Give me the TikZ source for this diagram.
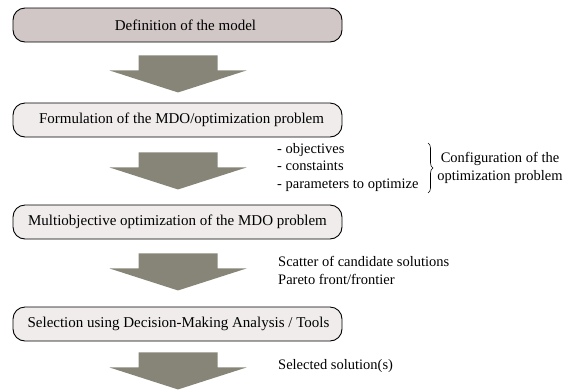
\documentclass[tikz,border=0pt]{standalone}
\usepackage{fontspec}
\setmainfont{Liberation Serif}
\usetikzlibrary{calc,decorations.pathreplacing}
\definecolor{boxA}{RGB}{208,199,198}
\definecolor{boxB}{RGB}{240,236,236}
\definecolor{arrowC}{RGB}{135,133,120}
\tikzset{
  stepbox/.style={draw=black, line width=0.9pt, rounded corners=12pt, minimum width=329pt, minimum height=34pt, inner sep=0pt, font=\fontsize{15}{18}\selectfont},
  sidetext/.style={inner sep=0pt, font=\fontsize{14.5}{17.5}\selectfont},
  bigarrow/.pic={\fill[arrowC] (-39.5pt,0) -- (39.5pt,0) -- (39.5pt,-15pt) -- (68.5pt,-15pt) -- (0,-37pt) -- (-68.5pt,-15pt) -- (-39.5pt,-15pt) -- cycle;}
}
\begin{document}
\begin{tikzpicture}[x=1pt,y=1pt]
\useasboundingbox (0,0) rectangle (569,-389);
\node[stepbox, fill=boxA] (b1) at (177.5,-25) {\hspace*{16pt}Definition of the model};
\node[stepbox, fill=boxB] (b2) at (177.5,-120) {\hspace*{8pt}Formulation of the MDO/optimization problem};
\node[stepbox, fill=boxB] (b3) at (177.5,-222) {Multiobjective optimization of the MDO problem};
\node[stepbox, fill=boxB] (b4) at (177.5,-324) {\hspace*{2pt}Selection using Decision-Making Analysis / Tools};
\pic at ($(b1.south)+(0.5,-13)$) {bigarrow};
\pic at ($(b2.south)+(0.5,-15)$) {bigarrow};
\pic at ($(b3.south)+(0.5,-14)$) {bigarrow};
\pic at ($(b4.south)+(0.5,-11)$) {bigarrow};
\node[sidetext, anchor=west, align=left] (cfg) at (277,-167.5) {- objectives\\- constaints\\- parameters to optimize};
\coordinate (bt) at (428,-143);
\coordinate (bb) at (428,-193);
\draw[line width=0.6pt, decorate, decoration={brace, amplitude=5pt}] (bt) -- (bb);
\node[sidetext, align=center] (conf) at (500,-168) {Configuration of the\\optimization problem};
\node[sidetext, anchor=west, align=left] (sc) at (278,-270.5) {Scatter of candidate solutions\\Pareto front/frontier};
\node[sidetext, anchor=west] (sel) at (278,-366) {Selected solution(s)};
\end{tikzpicture}
\end{document}
